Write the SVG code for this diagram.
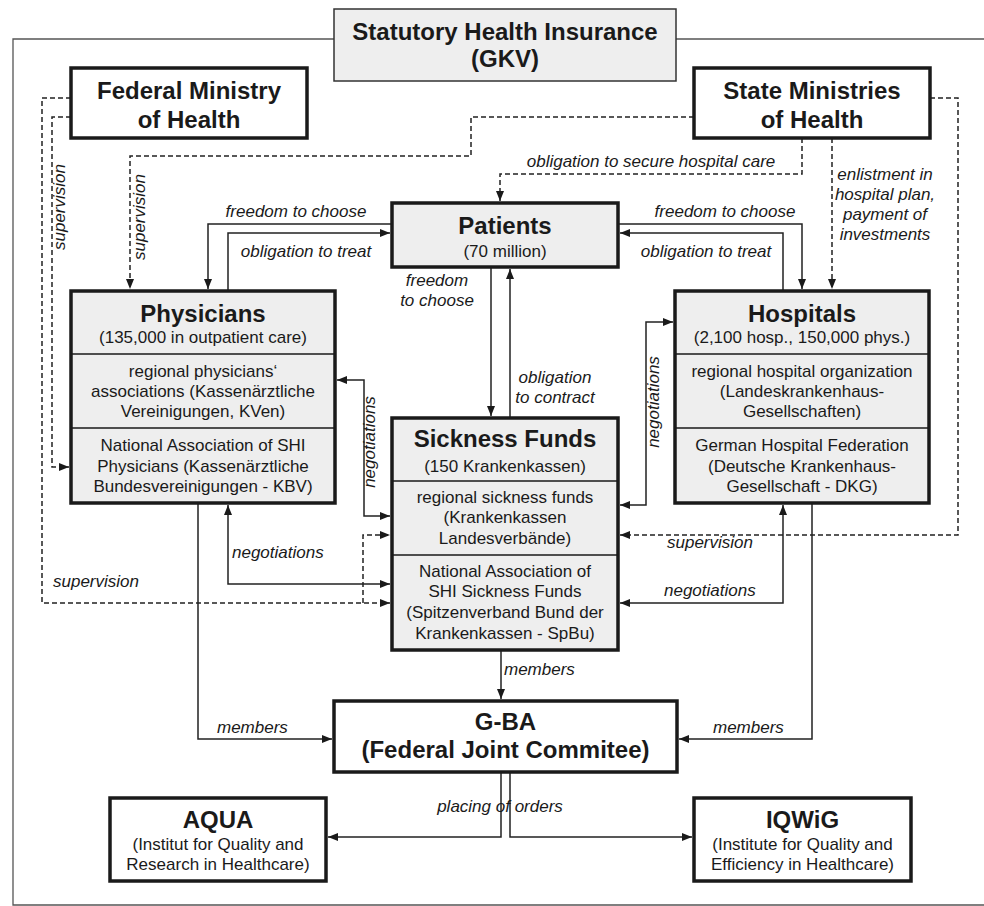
<svg xmlns="http://www.w3.org/2000/svg" width="984" height="906" viewBox="0 0 984 906">
<defs>
<style>
.box{stroke:#1a1a1a;stroke-width:3.5}
.w{fill:#ffffff}
.g{fill:#eeeeee}
.dv{stroke:#1a1a1a;stroke-width:1.5;fill:none}
text{font-family:"Liberation Sans",Arial,sans-serif;fill:#1a1a1a}
.h{font-size:24px;font-weight:bold;text-anchor:middle}
.s{font-size:17px;text-anchor:middle}
.l{font-size:17px;font-style:italic}
.lm{font-size:17px;font-style:italic;text-anchor:middle}
.c{fill:none;stroke:#222;stroke-width:1.5}
.d{stroke-dasharray:5 3}
</style>
<marker id="a" markerWidth="10" markerHeight="8" refX="10" refY="4" orient="auto-start-reverse" markerUnits="userSpaceOnUse">
<path d="M0,0 L10,4 L0,8 z" fill="#1a1a1a"/>
</marker>
</defs>
<rect width="984" height="906" fill="#ffffff"/>
<path d="M984,39 H13 V905 H984" fill="none" stroke="#555" stroke-width="1.3"/>

<g id="connectors">
<path class="c" d="M392,224 H208 V289" marker-end="url(#a)"/>
<path class="c" d="M228,291 V233 H390" marker-end="url(#a)"/>
<path class="c" d="M618,224 H802 V289" marker-end="url(#a)"/>
<path class="c" d="M783,291 V233 H620" marker-end="url(#a)"/>
<path class="c" d="M491,267 V416" marker-end="url(#a)"/>
<path class="c" d="M510,418 V269" marker-end="url(#a)"/>
<path class="c" d="M337,380 H364 V516 H390" marker-start="url(#a)" marker-end="url(#a)"/>
<path class="c" d="M620,505 H646 V322 H673" marker-start="url(#a)" marker-end="url(#a)"/>
<path class="c" d="M228,505 V584 H390" marker-start="url(#a)" marker-end="url(#a)"/>
<path class="c" d="M783,505 V603 H620" marker-start="url(#a)" marker-end="url(#a)"/>
<path class="c" d="M198,503 V739 H332" marker-end="url(#a)"/>
<path class="c" d="M812,503 V739 H679" marker-end="url(#a)"/>
<path class="c" d="M501,650 V699" marker-end="url(#a)"/>
<path class="c" d="M501,772 V837 H328" marker-end="url(#a)"/>
<path class="c" d="M510,772 V837 H692" marker-end="url(#a)"/>
<path class="c d" d="M71,117 H52 V467 H69" marker-end="url(#a)"/>
<path class="c d" d="M71,98 H42 V603 H390" marker-end="url(#a)"/>
<path class="c d" d="M363,603 V535 H390" marker-end="url(#a)"/>
<path class="c d" d="M694,117 H471 V156 H130 V289" marker-end="url(#a)"/>
<path class="c d" d="M802,138 V174 H500 V201" marker-end="url(#a)"/>
<path class="c d" d="M832,138 V289" marker-end="url(#a)"/>
<path class="c d" d="M930,98 H958 V535 H620" marker-end="url(#a)"/>

<text class="lm" x="296" y="217">freedom to choose</text>
<text class="lm" x="306" y="257">obligation to treat</text>
<text class="lm" x="725" y="217">freedom to choose</text>
<text class="lm" x="706" y="257">obligation to treat</text>
<text class="lm" x="437" y="286">freedom</text>
<text class="lm" x="437" y="306">to choose</text>
<text class="lm" x="555" y="383">obligation</text>
<text class="lm" x="555" y="403">to contract</text>
<text class="lm" transform="translate(375,442) rotate(-90)">negotiations</text>
<text class="lm" transform="translate(659,402) rotate(-90)">negotiations</text>
<text class="lm" transform="translate(65,207) rotate(-90)">supervision</text>
<text class="lm" transform="translate(145,217) rotate(-90)">supervision</text>
<text class="l" x="53" y="587">supervision</text>
<text class="l" x="667" y="548">supervision</text>
<text class="l" x="232" y="558">negotiations</text>
<text class="l" x="664" y="596">negotiations</text>
<text class="l" x="217" y="733">members</text>
<text class="l" x="713" y="733">members</text>
<text class="l" x="504" y="675">members</text>
<text class="lm" x="500" y="812">placing of orders</text>
<text class="lm" x="651" y="167">obligation to secure hospital care</text>
<text class="lm" x="885" y="180">enlistment in</text>
<text class="lm" x="885" y="200">hospital plan,</text>
<text class="lm" x="885" y="220">payment of</text>
<text class="lm" x="885" y="240">investments</text>
</g>

<g id="gkv">
<rect x="334" y="9" width="342" height="72" fill="#eeeeee" stroke="#333" stroke-width="1.5"/>
<text class="h" x="505" y="40">Statutory Health Insurance</text>
<text class="h" x="505" y="67">(GKV)</text>
</g>

<g id="federal-ministry">
<rect class="box w" x="71" y="68" width="236" height="70"/>
<text class="h" x="189" y="99">Federal Ministry</text>
<text class="h" x="189" y="128">of Health</text>
</g>

<g id="state-ministries">
<rect class="box w" x="694" y="68" width="236" height="70"/>
<text class="h" x="812" y="99">State Ministries</text>
<text class="h" x="812" y="128">of Health</text>
</g>

<g id="patients">
<rect class="box g" x="392" y="203" width="226" height="64"/>
<text class="h" x="505" y="234">Patients</text>
<text class="s" x="505" y="257">(70 million)</text>
</g>

<g id="physicians">
<rect class="box g" x="71" y="291" width="264" height="212"/>
<path class="dv" d="M71,354 H335 M71,428 H335"/>
<text class="h" x="203" y="322">Physicians</text>
<text class="s" x="203" y="343">(135,000 in outpatient care)</text>
<text class="s" x="203" y="377">regional physicians‘</text>
<text class="s" x="203" y="397">associations (Kassenärztliche</text>
<text class="s" x="203" y="417">Vereinigungen, KVen)</text>
<text class="s" x="203" y="451">National Association of SHI</text>
<text class="s" x="203" y="472">Physicians (Kassenärztliche</text>
<text class="s" x="203" y="492">Bundesvereinigungen - KBV)</text>
</g>

<g id="hospitals">
<rect class="box g" x="675" y="291" width="254" height="212"/>
<path class="dv" d="M675,354 H929 M675,428 H929"/>
<text class="h" x="802" y="322">Hospitals</text>
<text class="s" x="802" y="343">(2,100 hosp., 150,000 phys.)</text>
<text class="s" x="802" y="377">regional hospital organization</text>
<text class="s" x="802" y="397">(Landeskrankenhaus-</text>
<text class="s" x="802" y="417">Gesellschaften)</text>
<text class="s" x="802" y="451">German Hospital Federation</text>
<text class="s" x="802" y="472">(Deutsche Krankenhaus-</text>
<text class="s" x="802" y="492">Gesellschaft - DKG)</text>
</g>

<g id="sickness-funds">
<rect class="box g" x="392" y="418" width="226" height="232"/>
<path class="dv" d="M392,481 H618 M392,555 H618"/>
<text class="h" x="505" y="447">Sickness Funds</text>
<text class="s" x="505" y="472">(150 Krankenkassen)</text>
<text class="s" x="505" y="503">regional sickness funds</text>
<text class="s" x="505" y="523">(Krankenkassen</text>
<text class="s" x="505" y="544">Landesverbände)</text>
<text class="s" x="505" y="577">National Association of</text>
<text class="s" x="505" y="597">SHI Sickness Funds</text>
<text class="s" x="505" y="618">(Spitzenverband Bund der</text>
<text class="s" x="505" y="639">Krankenkassen - SpBu)</text>
</g>

<g id="gba">
<rect class="box w" x="334" y="701" width="343" height="71"/>
<text class="h" x="505.5" y="730">G-BA</text>
<text class="h" x="505.5" y="758">(Federal Joint Commitee)</text>
</g>

<g id="aqua">
<rect class="box w" x="110" y="798" width="216" height="83"/>
<text class="h" x="218" y="828">AQUA</text>
<text class="s" x="218" y="850">(Institut for Quality and</text>
<text class="s" x="218" y="870">Research in Healthcare)</text>
</g>

<g id="iqwig">
<rect class="box w" x="694" y="798" width="217" height="83"/>
<text class="h" x="802.5" y="828">IQWiG</text>
<text class="s" x="802.5" y="850">(Institute for Quality and</text>
<text class="s" x="802.5" y="870">Efficiency in Healthcare)</text>
</g>
</svg>
